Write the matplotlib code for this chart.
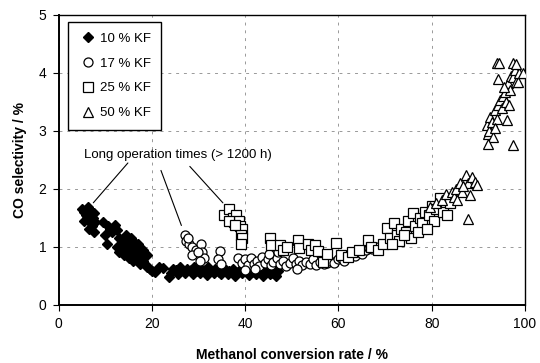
import matplotlib
matplotlib.use("Agg")
import matplotlib.pyplot as plt

plt.rcParams['font.family'] = ['Liberation Sans', 'DejaVu Sans']

# 10 % KF (filled diamonds)
kf10_x = [5.0, 5.5, 6.2, 7.0, 7.6, 5.3, 6.0, 6.8, 7.3, 7.8, 6.5, 7.2, 5.8, 7.5,
          9.5, 10.5, 9.8, 10.3, 11.0, 11.5, 12.0, 12.5,
          13.0, 13.5, 14.0, 14.5, 15.0, 15.5, 16.0, 16.5, 17.0, 17.5, 18.0, 18.5,
          19.0, 19.5, 20.0, 20.6, 13.0, 14.0, 15.0, 16.0, 17.0, 18.0, 19.0, 15.5,
          16.0, 14.5, 12.5, 17.5,
          21.5, 22.3, 23.6, 24.5, 25.2, 26.0, 26.8, 27.5, 28.3, 29.0, 29.8, 30.5,
          31.3, 32.0, 32.8, 33.5, 34.3, 35.0, 35.8, 36.5, 37.3, 38.0, 38.8, 39.5,
          40.3, 41.0, 41.8, 42.5, 43.3, 44.0, 44.8, 45.5, 46.3, 47.0,
          24.0, 25.6, 27.1, 28.7, 30.2, 31.7, 33.2, 34.7, 36.2, 37.7, 39.2, 40.7,
          42.2, 43.7, 45.2, 46.7]
kf10_y = [1.65, 1.60, 1.68, 1.62, 1.58, 1.45, 1.50, 1.40, 1.50, 1.42, 1.30, 1.35, 1.55, 1.25,
          1.42, 1.35, 1.20, 1.05, 1.30, 1.25, 1.38, 1.28,
          1.15, 1.05, 1.10, 0.95, 1.00, 0.90, 0.95, 0.85, 0.90, 0.80, 0.75, 0.70,
          0.65, 0.62, 0.58, 0.57, 0.90, 0.85, 0.80, 0.75, 1.05, 0.95, 0.85, 1.15,
          1.10, 1.20, 1.00, 0.70,
          0.65, 0.63, 0.47, 0.62, 0.60, 0.64, 0.58, 0.62, 0.60, 0.65, 0.58, 0.62,
          0.60, 0.64, 0.58, 0.62, 0.57, 0.63, 0.60, 0.58, 0.62, 0.57, 0.60, 0.63,
          0.58, 0.60, 0.56, 0.62, 0.58, 0.60, 0.57, 0.55, 0.60, 0.58,
          0.54, 0.52, 0.55, 0.52, 0.54, 0.51, 0.55, 0.52, 0.53, 0.50, 0.54, 0.51,
          0.53, 0.50, 0.52, 0.50]

# 17 % KF (open circles)
kf17_x = [27.0, 27.3, 28.0, 28.5, 29.5, 30.5, 30.8, 31.2, 28.5, 29.8, 27.8, 30.2,
          34.5, 34.2, 34.8,
          38.5, 39.2, 40.0, 40.5, 41.2, 41.8, 42.5, 43.0, 43.6, 44.2, 44.8, 45.5,
          46.0, 46.8, 47.5, 48.0, 48.8, 49.5, 50.2, 50.8, 51.5, 52.2, 53.0, 53.8,
          54.5, 55.2, 56.0, 56.8, 57.5, 58.2, 59.0, 59.8, 60.5, 61.2, 62.0, 62.8,
          63.5, 64.2, 65.0, 65.8, 66.5, 67.2, 68.0, 42.0, 45.0, 47.0, 51.0, 39.9]
kf17_y = [1.20, 1.10, 1.05, 1.00, 0.95, 1.05, 0.90, 0.80, 0.85, 0.90, 1.15, 0.75,
          0.92, 0.78, 0.70,
          0.80, 0.72, 0.78, 0.68, 0.80, 0.70, 0.76, 0.66, 0.82, 0.72, 0.78, 0.68,
          0.74, 0.80, 0.70, 0.76, 0.66, 0.72, 0.80, 0.70, 0.76, 0.68, 0.74, 0.70,
          0.78, 0.68, 0.74, 0.70, 0.72, 0.76, 0.72, 0.78, 0.80, 0.76, 0.82, 0.86,
          0.84, 0.90, 0.88, 0.94, 0.98, 0.96, 1.00, 0.62, 0.88, 0.90, 0.62, 0.60]

# 25 % KF (open squares)
kf25_x = [35.5, 36.5, 37.3, 38.0, 37.5, 38.6, 38.8, 39.2, 39.0, 39.4, 39.0, 36.6, 37.8,
          45.3, 45.5, 47.4, 48.0, 49.0, 51.3, 51.5, 53.5, 54.2, 55.0, 55.6, 56.7,
          57.5, 59.4, 60.5, 62.0, 63.0, 64.5, 66.3, 67.0, 68.5, 69.5, 70.4, 71.0,
          72.0, 72.5, 73.5, 74.5, 75.0, 76.0, 76.5, 77.5, 78.0, 78.5, 79.5, 80.0,
          80.5, 81.0, 81.8, 82.5, 83.3, 84.0, 75.5, 73.0, 77.0, 79.0, 71.5, 74.0]
kf25_y = [1.55, 1.65, 1.50, 1.55, 1.42, 1.45, 1.35, 1.30, 1.20, 1.15, 1.05, 1.45, 1.38,
          1.15, 1.02, 1.03, 0.95, 1.00, 1.11, 0.98, 1.05, 0.95, 1.03, 0.92, 0.73,
          0.88, 1.06, 0.85, 0.82, 0.90, 0.95, 1.11, 1.00, 0.95, 1.05, 1.32, 1.15,
          1.41, 1.20, 1.30, 1.25, 1.45, 1.58, 1.35, 1.50, 1.40, 1.60, 1.55, 1.70,
          1.45, 1.65, 1.84, 1.60, 1.55, 1.75, 1.15, 1.10, 1.25, 1.30, 1.05, 1.20]

# 50 % KF (open triangles)
kf50_x = [79.6, 81.0, 82.2, 83.0, 84.3, 84.8, 85.3, 86.0, 86.5, 87.3, 87.8, 88.6,
          89.2, 89.7, 88.2, 87.8, 85.5, 86.8,
          91.8, 92.0, 92.3, 92.5, 93.0, 93.2, 93.6, 94.0, 94.3, 94.6, 95.0, 95.3,
          95.7, 96.0, 96.1, 96.4, 96.8, 97.0, 97.4, 97.8, 98.0, 98.5, 98.8, 99.6,
          94.0, 94.5, 97.5, 98.2, 92.0, 97.4, 94.2, 95.5, 93.5, 96.5]
kf50_y = [1.68, 1.75, 1.80, 1.90, 1.94, 1.85, 2.00, 2.10, 1.95, 2.24, 2.10, 2.20,
          2.12, 2.06, 1.89, 1.48, 1.80, 2.05,
          3.10, 2.95, 3.00, 3.24, 3.15, 2.90, 3.36, 3.20, 3.45, 3.53, 3.40, 3.60,
          3.67, 3.50, 3.19, 3.82, 3.70, 3.95, 3.93, 4.05, 3.85, 3.85, 4.00, 4.00,
          4.17, 4.17, 4.17, 4.15, 2.77, 2.75, 3.90, 3.75, 3.05, 3.45]

fig = plt.figure(figsize=(5.4, 3.63), dpi=100)
ax = fig.add_axes([0.109, 0.161, 0.863, 0.798])

ax.plot(kf10_x, kf10_y, 'D', color='black', ms=5.5, label='10 % KF', zorder=3)
ax.plot(kf17_x, kf17_y, 'o', mfc='white', mec='black', mew=0.9, ms=6.5, label='17 % KF', zorder=3)
ax.plot(kf25_x, kf25_y, 's', mfc='white', mec='black', mew=0.9, ms=6.5, label='25 % KF', zorder=3)
ax.plot(kf50_x, kf50_y, '^', mfc='white', mec='black', mew=0.9, ms=7, label='50 % KF', zorder=3)

ax.set_xlim(0, 100)
ax.set_ylim(0, 5)
ax.set_xticks([0, 20, 40, 60, 80, 100])
ax.set_yticks([0, 1, 2, 3, 4, 5])
ax.grid(True, color='#999999', linestyle=(0, (3, 5)), linewidth=0.7)
ax.set_axisbelow(True)
ax.tick_params(direction='out', length=4, labelsize=10, pad=5)
for side in ['left', 'bottom']:
    ax.spines[side].set_linewidth(1.4)
for side in ['top', 'right']:
    ax.spines[side].set_linewidth(1.0)

ax.set_xlabel('Methanol conversion rate / %', fontsize=10, fontweight='bold', labelpad=12)
ax.set_ylabel('CO selectivity / %', fontsize=10, fontweight='bold', labelpad=8)

# annotation text with three lines to the long-run points
ax.text(25.5, 2.58, 'Long operation times (> 1200 h)', fontsize=9.5, ha='center', va='center')
ax.annotate('', xy=(7.0, 1.72), xytext=(15.2, 2.48),
            arrowprops=dict(arrowstyle='-', color='black', lw=0.8))
ax.annotate('', xy=(26.5, 1.32), xytext=(21.7, 2.36),
            arrowprops=dict(arrowstyle='-', color='black', lw=0.8))
ax.annotate('', xy=(35.6, 1.72), xytext=(27.7, 2.42),
            arrowprops=dict(arrowstyle='-', color='black', lw=0.8))

leg = ax.legend(loc='upper left', bbox_to_anchor=(0.02, 0.975), fontsize=9.5,
                frameon=True, fancybox=False, edgecolor='black', framealpha=1,
                handlelength=1.4, handletextpad=0.2, labelspacing=0.95,
                borderpad=0.8, borderaxespad=0)
leg.get_frame().set_linewidth(1.0)

fig.savefig('out.png', dpi=100)
